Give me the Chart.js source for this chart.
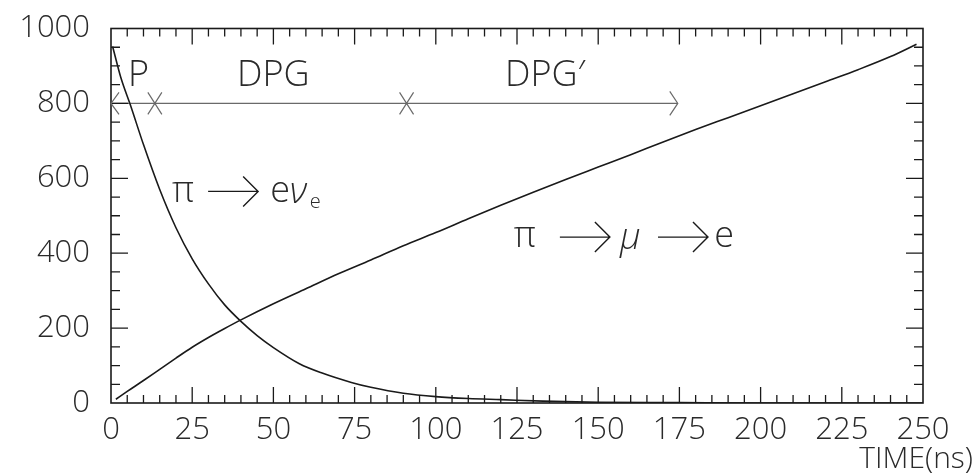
<!DOCTYPE html>
<html>
<head>
<meta charset="utf-8">
<script src="https://cdn.jsdelivr.net/npm/chart.js@4.4.1/dist/chart.umd.min.js"></script>
<style>
  html, body { margin: 0; padding: 0; background: #fff; }
  #wrap { width: 976px; height: 473px; }
</style>
</head>
<body>
<div id="wrap"><canvas id="decay"></canvas></div>
<script>
// pi -> e nu decay curve
const enuTime = [0.5, 3, 6, 10, 15, 20, 25, 30, 35, 40, 45, 50, 58, 65, 74, 80, 90, 100, 110, 120, 133, 150, 175, 200, 250];
const enuCount = [952, 870, 795, 690, 570, 468, 385, 318, 262, 218, 180, 148, 105, 80, 55, 42, 26, 17, 12, 9, 5, 2, 1, 0, 0];

// pi -> mu -> e curve
const mueTime = [1.5, 5, 10, 15, 20, 25, 30, 35, 40, 50, 60, 70, 80, 90, 100, 110, 120, 130, 140, 150, 160, 170, 180, 190, 200, 210, 220, 230, 240, 248];
const mueCount = [10, 31, 60, 90, 120, 149, 175, 199, 222, 265, 305, 345, 382, 420, 455, 492, 528, 563, 597, 630, 663, 697, 730, 762, 794, 826, 858, 890, 925, 958];

// gate bracket: start, P|DPG split, DPG|DPG' split, end
const gateTimes = [0, 13.5, 91, 174.5];
const gateLevel = 800;

const xTicks = [0, 25, 50, 75, 100, 125, 150, 175, 200, 225, 250];
const yTicks = [0, 200, 400, 600, 800, 1000];

const FAMILY = '"Open Sans", "DejaVu Sans", sans-serif';
const W = 300;
const INK = '#1a1a1a';
const TEXT = '#2a2a2a';

function pts(xs, ys) {
  return xs.map((x, i) => ({ x: x, y: ys[i] }));
}

function arrow(ctx, x1, x2, y, head, half) {
  ctx.beginPath();
  ctx.moveTo(x1, y);
  ctx.lineTo(x2, y);
  ctx.moveTo(x2 - head, y - half);
  ctx.lineTo(x2, y);
  ctx.lineTo(x2 - head, y + half);
  ctx.stroke();
}

const framePlugin = {
  id: 'frame',
  afterDatasetsDraw(chart) {
    const { ctx, chartArea: a, scales } = chart;
    const xs = scales.x, ys = scales.y;
    ctx.save();

    // frame
    ctx.strokeStyle = INK;
    ctx.lineWidth = 1.6;
    ctx.strokeRect(a.left, a.top, a.right - a.left, a.bottom - a.top);

    // inward ticks, all four sides
    ctx.lineWidth = 1.3;
    ctx.beginPath();
    for (let t = 5; t < 250; t += 5) {
      const px = xs.getPixelForValue(t);
      const len = t % 25 === 0 ? 16 : 8;
      ctx.moveTo(px, a.bottom); ctx.lineTo(px, a.bottom - len);
      ctx.moveTo(px, a.top); ctx.lineTo(px, a.top + len);
    }
    for (let v = 50; v < 1000; v += 50) {
      const py = ys.getPixelForValue(v);
      const len = v % 200 === 0 ? 17 : 9;
      ctx.moveTo(a.left, py); ctx.lineTo(a.left + len, py);
      ctx.moveTo(a.right, py); ctx.lineTo(a.right - len, py);
    }
    ctx.stroke();

    // gate bracket
    const gy = ys.getPixelForValue(gateLevel);
    const g0 = xs.getPixelForValue(gateTimes[0]);
    const g3 = xs.getPixelForValue(gateTimes[3]);
    ctx.strokeStyle = '#6a6a6a';
    ctx.lineWidth = 1.2;
    ctx.beginPath();
    ctx.moveTo(g0 + 8, gy - 11); ctx.lineTo(g0, gy); ctx.lineTo(g0 + 8, gy + 11);
    ctx.moveTo(g3 - 8, gy - 12); ctx.lineTo(g3, gy); ctx.lineTo(g3 - 8, gy + 12);
    [gateTimes[1], gateTimes[2]].forEach(t => {
      const px = xs.getPixelForValue(t);
      ctx.moveTo(px - 7, gy - 11); ctx.lineTo(px + 7, gy + 11);
      ctx.moveTo(px + 7, gy - 11); ctx.lineTo(px - 7, gy + 11);
    });
    ctx.stroke();

    // gate names
    ctx.fillStyle = TEXT;
    ctx.textBaseline = 'middle';
    ctx.textAlign = 'left';
    ctx.font = `${W} 36px ${FAMILY}`;
    const ny = ys.getPixelForValue(873);
    ctx.fillText('P', xs.getPixelForValue(5.2), ny);
    ctx.fillText('DPG', xs.getPixelForValue(38.8), ny);
    ctx.fillText('DPG\u2032', xs.getPixelForValue(121.3), ny);

    // decay channel labels
    ctx.strokeStyle = INK;
    ctx.lineWidth = 1.4;
    ctx.font = `${W} 36px ${FAMILY}`;
    const y1 = ys.getPixelForValue(565);
    ctx.fillText('\u03c0', xs.getPixelForValue(18.8), y1);
    arrow(ctx, xs.getPixelForValue(29.9), xs.getPixelForValue(45.3), y1, 15, 15);
    ctx.fillText('e', xs.getPixelForValue(49), y1);
    ctx.font = `italic ${W} 36px ${FAMILY}`;
    ctx.fillText('\u03bd', xs.getPixelForValue(55), y1 + 1);
    ctx.font = `${W} 20px ${FAMILY}`;
    ctx.fillText('e', xs.getPixelForValue(61.2), y1 + 11);

    ctx.font = `${W} 36px ${FAMILY}`;
    const y2 = ys.getPixelForValue(443);
    ctx.fillText('\u03c0', xs.getPixelForValue(124), y2);
    arrow(ctx, xs.getPixelForValue(138.2), xs.getPixelForValue(153.6), y2, 15, 15);
    ctx.font = `italic ${W} 36px ${FAMILY}`;
    ctx.fillText('\u03bc', xs.getPixelForValue(156.7), y2 + 2);
    arrow(ctx, xs.getPixelForValue(168.4), xs.getPixelForValue(183.8), y2, 15, 15);
    ctx.font = `${W} 36px ${FAMILY}`;
    ctx.fillText('e', xs.getPixelForValue(185.7), y2);

    // axis title
    ctx.textAlign = 'right';
    ctx.font = `${W} 30px ${FAMILY}`;
    ctx.fillText('TIME(ns)', a.right + 50, a.bottom + 56);

    ctx.restore();
  }
};

new Chart(document.getElementById('decay'), {
  type: 'line',
  data: {
    datasets: [
      {
        data: pts(enuTime, enuCount),
        borderColor: INK,
        borderWidth: 1.6,
        pointRadius: 0,
        cubicInterpolationMode: 'monotone',
        fill: false,
      },
      {
        data: pts(mueTime, mueCount),
        borderColor: INK,
        borderWidth: 1.6,
        pointRadius: 0,
        cubicInterpolationMode: 'monotone',
        fill: false,
      },
      {
        data: [{ x: gateTimes[0], y: gateLevel }, { x: gateTimes[3], y: gateLevel }],
        borderColor: '#6a6a6a',
        borderWidth: 1.2,
        pointRadius: 0,
        fill: false,
      },
    ],
  },
  options: {
    responsive: true,
    maintainAspectRatio: false,
    animation: false,
    layout: { padding: { top: 6, right: 53, left: 0, bottom: 0 } },
    plugins: {
      legend: { display: false },
      tooltip: { enabled: false },
    },
    scales: {
      x: {
        type: 'linear',
        min: 0,
        max: 250,
        afterFit(s) { s.height = 70; },
        afterBuildTicks(s) { s.ticks = xTicks.map(v => ({ value: v })); },
        grid: { display: false },
        border: { display: false },
        ticks: {
          color: TEXT,
          padding: 4,
          maxRotation: 0,
          autoSkip: false,
          callback: v => String(v),
          font: { family: FAMILY, size: 31, weight: W, lineHeight: 1 },
        },
      },
      y: {
        type: 'linear',
        min: 0,
        max: 1000,
        afterFit(s) { s.width = 111; },
        afterBuildTicks(s) { s.ticks = yTicks.map(v => ({ value: v })); },
        grid: { display: false },
        border: { display: false },
        ticks: {
          color: TEXT,
          padding: 13,
          callback: v => String(v),
          font: { family: FAMILY, size: 31, weight: W, lineHeight: 1 },
        },
      },
    },
  },
  plugins: [framePlugin],
});
</script>
</body>
</html>
